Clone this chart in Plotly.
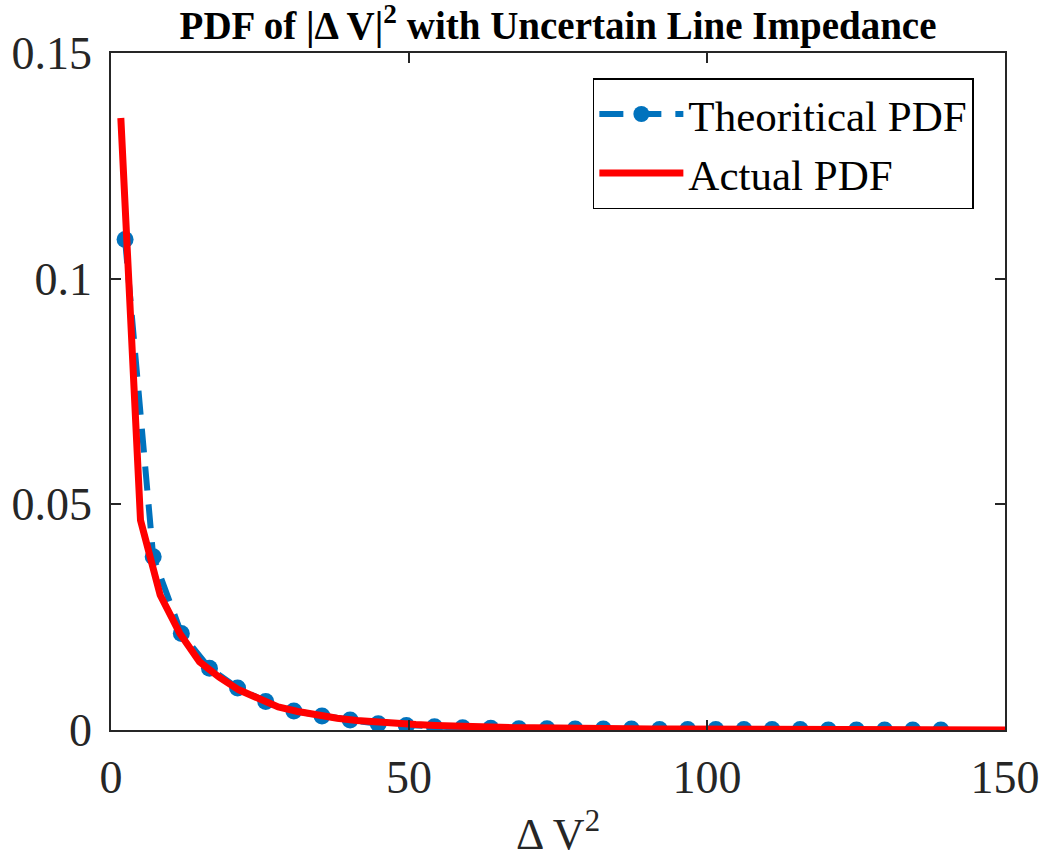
import plotly.graph_objects as go

# Theoretical PDF (blue, dashed with markers)
theo_x = [2.36, 7.08, 11.80, 16.52, 21.24, 25.96, 30.68, 35.40, 40.12, 44.84,
          49.56, 54.28, 59.00, 63.72, 68.44, 73.16, 77.88, 82.60, 87.32, 92.04,
          96.76, 101.48, 106.20, 110.92, 115.64, 120.36, 125.08, 129.80, 134.52, 139.24]
theo_y = [0.1087, 0.0384, 0.0214, 0.0137, 0.0093, 0.0063, 0.0042, 0.0031, 0.0022, 0.0014,
          0.0010, 0.0007, 0.0005, 0.0004, 0.0003, 0.0003, 0.0002, 0.0002, 0.0002, 0.0001,
          0.0001, 0.0001, 0.0001, 0.0001, 0.0001, 0.0000, 0.0000, 0.0000, 0.0000, 0.0000]

# Actual PDF (red solid)
act_x = [1.65, 4.95, 8.25, 11.55, 14.85, 18.15, 21.45, 24.75, 28.05, 31.35,
         34.65, 37.95, 41.25, 44.55, 47.85, 51.15, 54.45, 57.75, 61.05, 64.35,
         67.65, 70.95, 74.25, 77.55, 80.85, 84.15, 87.45, 90.75, 94.05, 97.35,
         100.65, 103.95, 107.25, 110.55, 113.85, 117.15, 120.45, 123.75, 127.05, 130.35,
         133.65, 136.95, 140.25, 143.55, 146.85, 150.15]
act_y = [0.1356, 0.0465, 0.0299, 0.0214, 0.0151, 0.0117, 0.0089, 0.0068, 0.0051, 0.0041,
         0.0033, 0.0026, 0.0021, 0.0017, 0.0014, 0.0012, 0.0010, 0.0008, 0.0007, 0.0006,
         0.0005, 0.0005, 0.0004, 0.0004, 0.0003, 0.0003, 0.0003, 0.0002, 0.0002, 0.0002,
         0.0002, 0.0002, 0.0001, 0.0001, 0.0001, 0.0001, 0.0001, 0.0001, 0.0001, 0.0001,
         0.0000, 0.0000, 0.0000, 0.0000, 0.0000, 0.0000]

x_ticks = [0, 50, 100, 150]
x_tick_labels = ["0", "50", "100", "150"]
y_ticks = [0, 0.05, 0.1, 0.15]
y_tick_labels = ["0", "0.05", "0.1", "0.15"]

FONT = "Liberation Serif"
AXC = "#262626"

fig = go.Figure()
fig.add_trace(go.Scatter(
    x=theo_x, y=theo_y, mode="lines+markers", name="Theoritical PDF",
    line=dict(color="#0072BD", width=6, dash="24px,14px"),
    marker=dict(color="#0072BD", size=17),
))
fig.add_trace(go.Scatter(
    x=act_x, y=act_y, mode="lines", name="Actual PDF",
    line=dict(color="#FF0000", width=7),
))

axis_common = dict(
    showline=True, linecolor=AXC, linewidth=1.5, mirror="allticks",
    ticks="inside", ticklen=10, tickwidth=1.5, tickcolor=AXC,
    showgrid=False, zeroline=False, automargin=False,
    tickfont=dict(family=FONT, size=46, color=AXC),
)

fig.update_layout(
    width=1047, height=859,
    margin=dict(l=111, r=42, t=53, b=129),
    paper_bgcolor="white", plot_bgcolor="white",
    title=dict(
        text="PDF of |\u0394 V|<sup>2</sup> with Uncertain Line Impedance",
        font=dict(family=FONT, size=39, color="black", weight="bold"),
        x=0.533, xanchor="center", y=0.970, yanchor="middle",
    ),
    xaxis=dict(
        range=[0, 150], tickvals=x_ticks, ticktext=x_tick_labels,
        ticklabelstandoff=6,
        title=dict(text="\u0394 V<sup>2</sup>", font=dict(family=FONT, size=44, color=AXC), standoff=19),
        **axis_common,
    ),
    yaxis=dict(
        range=[0, 0.15], tickvals=y_ticks, ticktext=y_tick_labels,
        ticklabelstandoff=8,
        **axis_common,
    ),
    legend=dict(
        x=0.539, y=0.963, xanchor="left", yanchor="top",
        bordercolor="black", borderwidth=1.5, bgcolor="white",
        font=dict(family=FONT, size=43, color="black"),
        itemwidth=84,
        tracegroupgap=0,
    ),
    showlegend=True,
)

fig.write_html("out.html")
